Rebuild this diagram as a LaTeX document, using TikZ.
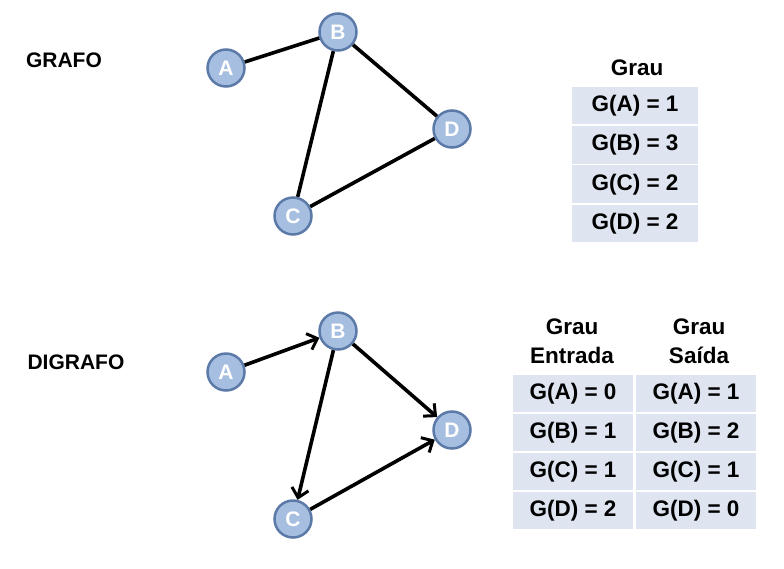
\documentclass[tikz,border=0pt]{standalone}
\usepackage{fontspec}
\setmainfont{Liberation Sans}
\usepackage{tikz}
\usetikzlibrary{arrows.meta,positioning}
\definecolor{nofill}{RGB}{166,190,224}
\definecolor{nodraw}{RGB}{92,122,168}
\definecolor{cellfill}{RGB}{223,229,240}

\begin{document}
\begin{tikzpicture}[x=1pt, y=-1pt, >={Straight Barb[length=9pt,width=17pt,line width=3pt]},
  vertice/.style={circle, fill=nofill, draw=nodraw, line width=2.5pt, minimum size=37pt, inner sep=0pt,
    text=white, font=\fontsize{21}{21}\selectfont\bfseries},
  aresta/.style={line width=3.6pt, black},
  titulo/.style={font=\fontsize{21}{24}\selectfont\bfseries},
  cabecalho/.style={font=\fontsize{22.5}{29}\selectfont\bfseries, align=center},
  celula/.style={fill=cellfill, minimum width=126pt, minimum height=37.5pt, inner sep=0pt,
    font=\fontsize{22.5}{24}\selectfont\bfseries},
  celulab/.style={celula, minimum width=120pt}]
  \useasboundingbox (0,0) rectangle (784,568);
  % grafo
  \node[titulo] (tg) at (64,60) {GRAFO};
  \node[vertice] (a1) at (226,68) {A};
  \node[vertice] (b1) at (338,32) {B};
  \node[vertice] (d1) at (452,129) {D};
  \node[vertice] (c1) at (293,216) {C};
  \draw[aresta] (a1) -- (b1);
  \draw[aresta] (b1) -- (d1);
  \draw[aresta] (b1) -- (c1);
  \draw[aresta] (c1) -- (d1);
  % tabela do grafo
  \node[cabecalho] (hg) at (637,68) {Grau};
  \foreach \v/\g [count=\i] in {A/1,B/3,C/2,D/2}
    \node[celula] (g\i) at (635,66.3+39.3*\i) {G(\v) = \g};
  % digrafo
  \node[titulo] (td) at (76,362) {DIGRAFO};
  \node[vertice] (a2) at (226,372) {A};
  \node[vertice] (b2) at (338,331) {B};
  \node[vertice] (d2) at (452,430) {D};
  \node[vertice] (c2) at (293,519) {C};
  \draw[aresta,->] (a2) -- (b2);
  \draw[aresta,->] (b2) -- (d2);
  \draw[aresta,->] (b2) -- (c2);
  \draw[aresta,->] (c2) -- (d2);
  % tabela do digrafo
  \node[cabecalho] (he) at (572,341) {Grau\\Entrada};
  \node[cabecalho] (hs) at (699,341) {Grau\\Saída};
  \foreach \v/\e/\s [count=\i] in {A/0/1,B/1/2,C/1/1,D/2/0} {
    \node[celulab] (e\i) at (573,354.5+39*\i) {G(\v) = \e};
    \node[celulab] (s\i) at (696,354.5+39*\i) {G(\v) = \s};
  }
\end{tikzpicture}
\end{document}
